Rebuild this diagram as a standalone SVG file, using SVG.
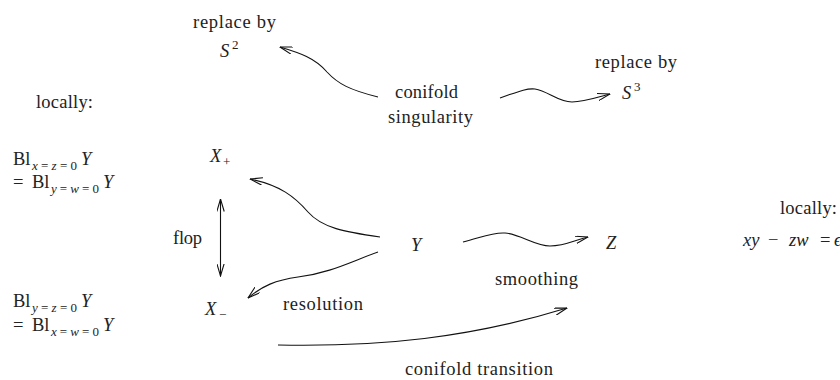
<svg xmlns="http://www.w3.org/2000/svg" width="840" height="380" viewBox="0 0 840 380">
<style>
text{font-family:"Liberation Serif","DejaVu Serif","Times New Roman",serif;font-size:18.5px;fill:#222}
.it{font-style:italic}
.sub{font-size:13px}
.con{fill:none;stroke:#111;stroke-width:1.1}
</style>
<defs>
<marker id="ah" viewBox="0 0 13 8" refX="12.5" refY="4" markerWidth="13" markerHeight="8" markerUnits="userSpaceOnUse" orient="auto-start-reverse">
<path d="M0,0.3 L12.5,4 L0,7.7" fill="none" stroke="#111" stroke-width="1.1"/>
</marker>
</defs>
<rect width="840" height="380" fill="#fff"/>
<g id="connectors">
<path class="con" marker-end="url(#ah)" d="M378,97 C350,90 338,84 327,72 C315,58 300,53 280,47"/>
<path class="con" marker-end="url(#ah)" d="M500,98 C515,93 525,88 535,89 C548,91 558,102 572,102 C585,102 598,97 610,94"/>
<path class="con" marker-end="url(#ah)" d="M380,237 C345,232 322,228 308,212 C295,197 280,185 250,179"/>
<path class="con" marker-end="url(#ah)" d="M378,252 C350,262 330,273 298,277 C276,280 262,286 248,298"/>
<path class="con" marker-end="url(#ah)" d="M463,242 C480,238 492,232 505,233 C520,234 535,246 550,246 C565,246 575,240 588,237"/>
<path class="con" marker-start="url(#ah)" marker-end="url(#ah)" d="M220.5,199 L220.5,276"/>
<path class="con" marker-end="url(#ah)" d="M278,345 C380,347 470,338 567,308"/>
</g>
<g id="s2">
<text x="193" y="28" textLength="83" lengthAdjust="spacing">replace by</text>
<text x="220" y="57" class="it">S</text><text x="232" y="49" class="sub">2</text>
</g>
<g id="conifold-singularity">
<text x="395" y="98" textLength="63" lengthAdjust="spacing">conifold</text>
<text x="388" y="123" textLength="85" lengthAdjust="spacing">singularity</text>
</g>
<g id="s3">
<text x="595" y="68" textLength="82" lengthAdjust="spacing">replace by</text>
<text x="622" y="99" class="it">S</text><text x="634" y="91" class="sub">3</text>
</g>
<g id="local-left">
<text x="36" y="108" textLength="57" lengthAdjust="spacing">locally:</text>
<text x="13" y="165">Bl</text><text x="32" y="170" class="sub" textLength="45" lengthAdjust="spacing"><tspan class="it">x</tspan>=<tspan class="it">z</tspan>=0</text><text x="81" y="165" class="it">Y</text>
<text x="13" y="188">=</text><text x="32" y="188">Bl</text><text x="51" y="193" class="sub" textLength="48" lengthAdjust="spacing"><tspan class="it">y</tspan>=<tspan class="it">w</tspan>=0</text><text x="103" y="188" class="it">Y</text>
<text x="13" y="307">Bl</text><text x="32" y="312" class="sub" textLength="45" lengthAdjust="spacing"><tspan class="it">y</tspan>=<tspan class="it">z</tspan>=0</text><text x="81" y="307" class="it">Y</text>
<text x="13" y="331">=</text><text x="32" y="331">Bl</text><text x="51" y="336" class="sub" textLength="48" lengthAdjust="spacing"><tspan class="it">x</tspan>=<tspan class="it">w</tspan>=0</text><text x="103" y="331" class="it">Y</text>
</g>
<g id="x-plus">
<text x="210" y="162" class="it">X</text><text x="223" y="166" class="sub">+</text>
</g>
<g id="x-minus">
<text x="205" y="315" class="it">X</text><text x="219" y="319" class="sub">−</text>
</g>
<g id="flop-label">
<text x="173" y="244" textLength="29" lengthAdjust="spacing">flop</text>
</g>
<g id="y">
<text x="411" y="251" class="it">Y</text>
</g>
<g id="z">
<text x="606" y="249" class="it">Z</text>
</g>
<g id="resolution-label">
<text x="283" y="310" textLength="80" lengthAdjust="spacing">resolution</text>
</g>
<g id="smoothing-label">
<text x="495" y="285" textLength="83" lengthAdjust="spacing">smoothing</text>
</g>
<g id="local-right">
<text x="780" y="214" textLength="57" lengthAdjust="spacing">locally:</text>
<text x="743" y="246"><tspan class="it">xy</tspan><tspan x="768">−</tspan><tspan x="789" class="it">zw</tspan><tspan x="820">=</tspan><tspan x="834" class="it">ϵ</tspan></text>
</g>
<g id="transition-label">
<text x="405" y="375" textLength="148" lengthAdjust="spacing">conifold transition</text>
</g>
</svg>
